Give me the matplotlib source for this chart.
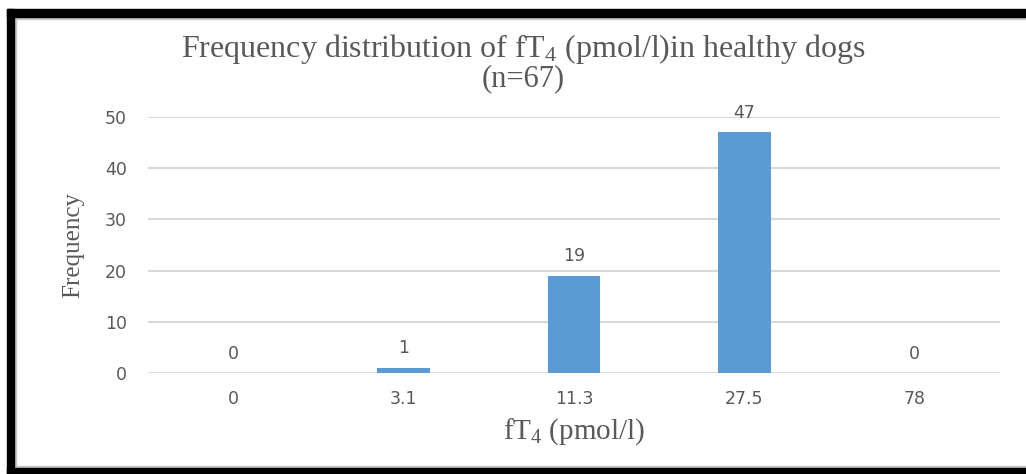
import matplotlib
matplotlib.use("Agg")
import matplotlib.pyplot as plt
from matplotlib.patches import Rectangle

# fT4 bins (pmol/l) and number of dogs in each
categories = ["0", "3.1", "11.3", "27.5", "78"]
frequency = [0, 1, 19, 47, 0]
y_ticks = [0, 10, 20, 30, 40, 50]

plt.rcParams["mathtext.fontset"] = "custom"
plt.rcParams["mathtext.rm"] = "Liberation Serif"
plt.rcParams["mathtext.it"] = "Liberation Serif:italic"

W, H = 1026, 474
fig = plt.figure(figsize=(W / 100, H / 100), dpi=100)
fig.patch.set_facecolor("white")

text_grey = "#595959"
bar_blue = "#5B9BD5"
grid_grey = "#D9D9D9"
serif = "Liberation Serif"
sans = "DejaVu Sans"

ax = fig.add_axes([148 / W, 1 - 373 / H, (1000 - 148) / W, (373 - 117) / H])
x = list(range(len(categories)))
ax.bar(x, frequency, width=0.31, color=bar_blue, zorder=3)
ax.set_xlim(-0.5, len(categories) - 0.5)
ax.set_ylim(0, 50)
ax.set_yticks(y_ticks)
ax.set_xticks(x)
ax.set_xticklabels(categories)
ax.grid(axis="y", color=grid_grey, linewidth=1.5, zorder=0)
ax.set_axisbelow(True)
for s in ax.spines.values():
    s.set_visible(False)
ax.tick_params(axis="both", length=0, labelsize=12.5, colors=text_grey)
ax.tick_params(axis="x", pad=12)
ax.tick_params(axis="y", pad=15)
for lab in ax.get_xticklabels() + ax.get_yticklabels():
    lab.set_fontfamily(sans)

for xi, v in zip(x, frequency):
    ax.annotate(str(v), (xi, v), xytext=(0, 14), textcoords="offset points",
                ha="center", va="center", fontsize=12.5, color=text_grey,
                fontfamily=sans)

ax.set_xlabel(r"fT$_4$ (pmol/l)", fontsize=21, color=text_grey,
              fontfamily=serif, labelpad=6)
ax.set_ylabel("Frequency", fontsize=18, color=text_grey,
              fontfamily=serif, labelpad=15)

fig.text(523 / W, 1 - 57 / H, r"Frequency distribution of fT$_4$ (pmol/l)in healthy dogs",
         ha="center", va="baseline", fontsize=23, color=text_grey, fontfamily=serif)
fig.text(523 / W, 1 - 86 / H, "(n=67)",
         ha="center", va="baseline", fontsize=22, color=text_grey, fontfamily=serif)

# black frame on top, left and bottom with a thin grey inner edge
def frame_rect(x0, y0, x1, y1, color):
    fig.patches.append(Rectangle((x0 / W, 1 - y1 / H), (x1 - x0) / W, (y1 - y0) / H,
                                 transform=fig.transFigure, color=color, zorder=10))

frame_rect(15, 17, W, 19, "#C8C8C8")
frame_rect(14, 17, 16, 467, "#C8C8C8")
frame_rect(14, 466, W, 468, "#C8C8C8")
frame_rect(7, 9, W, 17, "black")
frame_rect(7, 9, 14, H, "black")
frame_rect(7, 468, W, H, "black")

fig.savefig("out.png", dpi=100, facecolor="white")
